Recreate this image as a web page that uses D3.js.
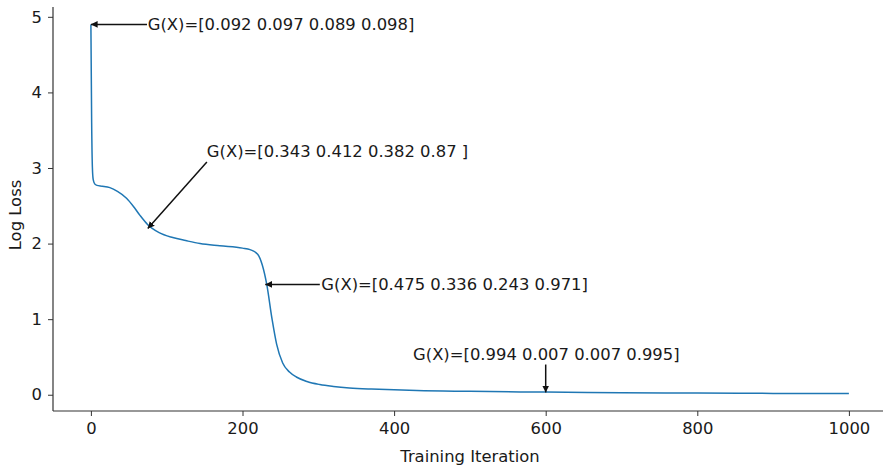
<!DOCTYPE html>
<html>
<head>
<meta charset="utf-8">
<script src="https://cdn.jsdelivr.net/npm/d3@7"></script>
<style>
  body { margin: 0; background: #fff; }
  text { font-family: "DejaVu Sans", sans-serif; fill: #1a1a1a; }
</style>
</head>
<body>
<div id="chart"></div>
<script>
// training curve
const iterations = [0, 1, 2, 3, 5, 8, 15, 25, 35, 47, 57, 65, 75, 90, 108, 125, 144, 170, 200, 210, 220, 226, 232, 239, 245, 253, 262, 271, 285, 302, 320, 341, 370, 400, 430, 500, 600, 700, 800, 900, 1000];
const logLoss = [4.9, 3.6, 3.0, 2.85, 2.79, 2.77, 2.76, 2.74, 2.69, 2.60, 2.48, 2.37, 2.25, 2.145, 2.08, 2.04, 2.0, 1.97, 1.94, 1.92, 1.86, 1.72, 1.46, 1.0, 0.67, 0.42, 0.30, 0.235, 0.175, 0.135, 0.11, 0.09, 0.075, 0.065, 0.055, 0.045, 0.035, 0.028, 0.022, 0.018, 0.015];

const xTicks = [0, 200, 400, 600, 800, 1000];
const yTicks = [0, 1, 2, 3, 4, 5];

// annotations: target point, arrow tail, text anchor (data units)
const annLabels = ["G(X)=[0.092 0.097 0.089 0.098]", "G(X)=[0.343 0.412 0.382 0.87 ]", "G(X)=[0.475 0.336 0.243 0.971]", "G(X)=[0.994 0.007 0.007 0.995]"];
const annPoints = [[0, 4.9], [75, 2.2], [230, 1.46], [600, 0.03]];
const annTails = [[74, 4.9], [153, 3.08], [302, 1.46], [600, 0.40]];
const annText = [[75, 4.9], [153, 3.22], [304, 1.46], [425, 0.54]];

const width = 883, height = 466;
const margin = {left: 53, right: 0, top: 7, bottom: 55};

const svg = d3.select('#chart').append('svg')
  .attr('width', width)
  .attr('height', height);

const x = d3.scaleLinear().domain([-50, 1050]).range([margin.left, margin.left + 1100 * 0.758]);
const y = d3.scaleLinear().domain([-0.215, 5.13]).range([height - margin.bottom, margin.top]);

// axes
let xAxis = svg.append('g')
  .attr('transform', 'translate(0,' + (height - margin.bottom) + ')')
  .call(d3.axisBottom(x).tickValues(xTicks).tickSize(5).tickPadding(6).tickFormat(d3.format('d')));
let yAxis = svg.append('g')
  .attr('transform', 'translate(' + margin.left + ',0)')
  .call(d3.axisLeft(y).tickValues(yTicks).tickSize(5).tickPadding(6).tickFormat(d3.format('d')));

[xAxis, yAxis].forEach(a => {
  a.select('.domain').attr('stroke', '#333').attr('stroke-width', 1.2);
  a.selectAll('.tick line').attr('stroke', '#333');
  a.selectAll('.tick text').style('font-size', '16.4px').attr('fill', '#1a1a1a');
});
xAxis.select('.domain').attr('d', 'M' + margin.left + ',0H' + width);
yAxis.select('.domain').attr('d', 'M0,' + y(-0.215) + 'V' + margin.top);

svg.append('text')
  .attr('x', 470)
  .attr('y', 462)
  .attr('text-anchor', 'middle')
  .style('font-size', '16.4px')
  .text('Training Iteration');

svg.append('text')
  .attr('transform', 'translate(21,' + 215 + ') rotate(-90)')
  .attr('text-anchor', 'middle')
  .style('font-size', '16.4px')
  .text('Log Loss');

// loss curve
const pts = iterations.map((d, i) => [d, logLoss[i]]);
const line = d3.line()
  .x(d => x(d[0]))
  .y(d => y(d[1]))
  .curve(d3.curveMonotoneX);

svg.append('path')
  .datum(pts)
  .attr('d', line)
  .attr('fill', 'none')
  .attr('stroke', '#1f77b4')
  .attr('stroke-width', 1.5);

// arrowhead
svg.append('defs').append('marker')
  .attr('id', 'head')
  .attr('viewBox', '0 0 10 10')
  .attr('refX', 10)
  .attr('refY', 5)
  .attr('markerWidth', 4.5)
  .attr('markerHeight', 4.5)
  .attr('markerUnits', 'strokeWidth')
  .attr('orient', 'auto')
  .append('path')
  .attr('d', 'M0,0L10,5L0,10z')
  .attr('fill', '#111');

let anns = svg.selectAll('g.ann')
  .data(annLabels)
  .join('g')
  .classed('ann', true);

anns.append('line')
  .attr('x1', (d, i) => x(annTails[i][0]))
  .attr('y1', (d, i) => y(annTails[i][1]))
  .attr('x2', (d, i) => x(annPoints[i][0]))
  .attr('y2', (d, i) => y(annPoints[i][1]))
  .attr('stroke', '#111')
  .attr('stroke-width', 1.5)
  .attr('marker-end', 'url(#head)');

anns.append('text')
  .attr('x', (d, i) => x(annText[i][0]))
  .attr('y', (d, i) => y(annText[i][1]))
  .attr('dy', '0.36em')
  .style('font-size', '16.4px')
  .text(d => d);
</script>
</body>
</html>
